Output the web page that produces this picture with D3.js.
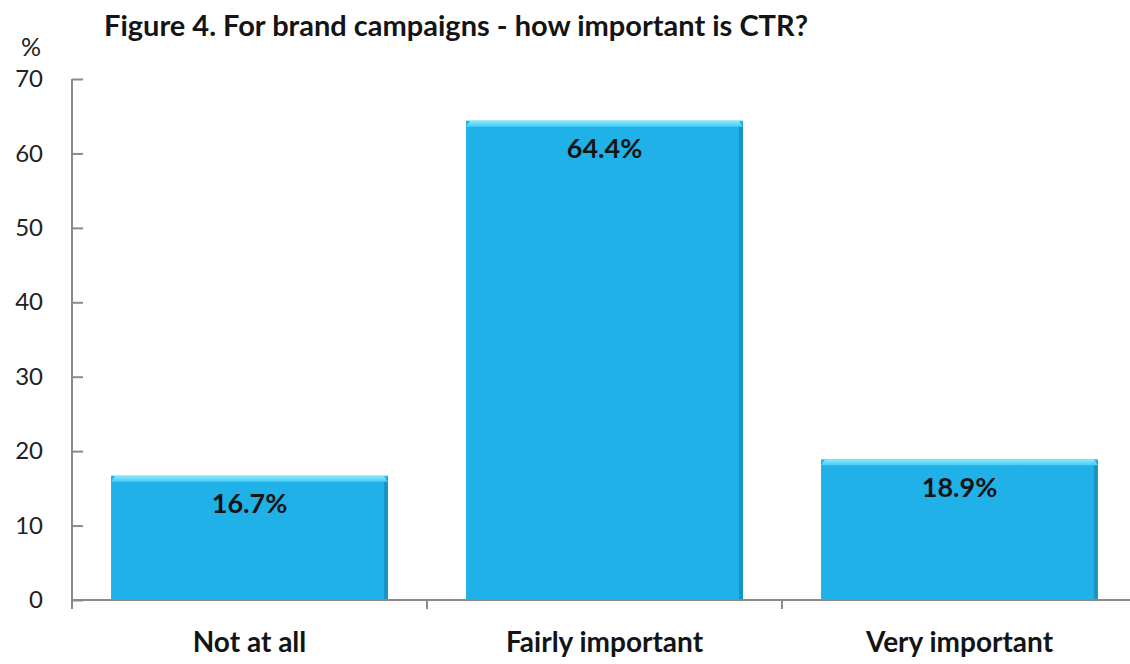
<!DOCTYPE html>
<html>
<head>
<meta charset="utf-8">
<script src="https://cdn.jsdelivr.net/npm/d3@7"></script>
<style>
  body { margin: 0; background: #fff; }
  svg { display: block; }
  text { font-family: Lato, "Open Sans", sans-serif; }
</style>
</head>
<body>
<div id="chart"></div>
<script>
// data
const categories = ["Not at all", "Fairly important", "Very important"];
const values = [16.7, 64.4, 18.9];
const yTicks = [0, 10, 20, 30, 40, 50, 60, 70];
const title = "Figure 4. For brand campaigns - how important is CTR?";

const width = 1130;
const height = 664;
const margin = { top: 79, bottom: 64, left: 72, right: -7 };

const svg = d3.select('#chart')
  .append('svg')
  .attr('width', width)
  .attr('height', height);

const defs = svg.append('defs');
const bevel = defs.append('linearGradient')
  .attr('id', 'bevel').attr('x1', 0).attr('y1', 0).attr('x2', 0).attr('y2', 1);
bevel.append('stop').attr('offset', '0%').attr('stop-color', '#8ae9fd');
bevel.append('stop').attr('offset', '100%').attr('stop-color', '#45cdf3');

const x = d3.scaleBand()
  .domain(categories)
  .range([margin.left, width - margin.right])
  .paddingInner(0.22)
  .paddingOuter(0.11);

const y = d3.scaleLinear()
  .domain([0, 70])
  .range([height - margin.bottom, margin.top]);

// bars
const bars = svg.append('g')
  .selectAll('g')
  .data(values)
  .join('g');

bars.append('rect')
  .attr('x', (d, i) => x(categories[i]))
  .attr('y', d => y(d))
  .attr('width', x.bandwidth())
  .attr('height', d => y(0) - y(d))
  .attr('fill', '#1fb1e7');

// right side shade
bars.append('rect')
  .attr('x', (d, i) => x(categories[i]) + x.bandwidth() - 4)
  .attr('y', d => y(d) + 3)
  .attr('width', 4)
  .attr('height', d => y(0) - y(d) - 3)
  .attr('fill', '#1a94c4');

// top bevel
bars.append('path')
  .attr('d', (d, i) => {
    const x0 = x(categories[i]), x1 = x0 + x.bandwidth(), t = y(d);
    return `M${x0},${t + 6}L${x0 + 4},${t}L${x1 - 4},${t}L${x1},${t + 6}Z`;
  })
  .attr('fill', 'url(#bevel)');

// value labels
bars.append('text')
  .attr('x', (d, i) => x(categories[i]) + x.bandwidth() / 2)
  .attr('y', d => y(d) + 28)
  .attr('dy', '0.35em')
  .attr('text-anchor', 'middle')
  .style('font-size', '27px')
  .style('font-weight', 'bold')
  .attr('fill', '#141414')
  .text(d => d.toFixed(1) + '%');

// y axis
const yAxis = svg.append('g')
  .attr('transform', `translate(${margin.left},0)`)
  .call(d3.axisLeft(y).tickValues(yTicks).tickSize(-11).tickPadding(29));
yAxis.select('.domain')
  .attr('d', `M0,${y(70)}V${y(0) + 9}`);
yAxis.selectAll('line').attr('stroke', '#8a8a8a').attr('stroke-width', 2);
yAxis.select('.domain').attr('stroke', '#8a8a8a').attr('stroke-width', 2);
yAxis.selectAll('text')
  .style('font-size', '24px')
  .attr('fill', '#222');

// x axis
const xAxis = svg.append('g')
  .attr('transform', `translate(0,${y(0)})`)
  .call(d3.axisBottom(x).tickSize(0).tickPadding(32));
xAxis.select('.domain')
  .attr('d', `M${margin.left},0H${width}`)
  .attr('stroke', '#8a8a8a').attr('stroke-width', 2);
xAxis.selectAll('text')
  .style('font-size', '28px')
  .style('font-weight', 'bold')
  .attr('fill', '#141414');

// ticks between categories
const step = x.step();
svg.append('g')
  .selectAll('line')
  .data(categories.slice(1))
  .join('line')
  .attr('x1', d => x(d) - step * x.paddingInner() / 2)
  .attr('x2', d => x(d) - step * x.paddingInner() / 2)
  .attr('y1', y(0))
  .attr('y2', y(0) + 9)
  .attr('stroke', '#8a8a8a')
  .attr('stroke-width', 2);

// % label and title
svg.append('text')
  .attr('x', 31)
  .attr('y', 56)
  .attr('text-anchor', 'middle')
  .style('font-size', '25px')
  .attr('fill', '#222')
  .text('%');

svg.append('text')
  .attr('x', 104)
  .attr('y', 36)
  .style('font-size', '29px')
  .style('font-weight', 'bold')
  .attr('fill', '#141414')
  .text(title);
</script>
</body>
</html>
